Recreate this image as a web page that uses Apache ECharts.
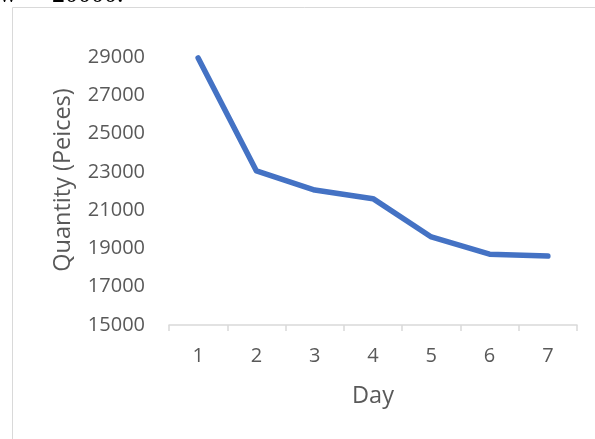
<!DOCTYPE html>
<html>
<head>
<meta charset="utf-8">
<script src="https://cdn.jsdelivr.net/npm/echarts@6/dist/echarts.min.js"></script>
<style>
  html, body { margin: 0; padding: 0; background: #ffffff; }
  #chart { width: 595px; height: 439px; }
</style>
</head>
<body>
<div id="chart"></div>
<script>
// Daily production quantity over one week
const days = ['1', '2', '3', '4', '5', '6', '7'];
const quantity = [28950, 23050, 22050, 21600, 19600, 18700, 18600];
const yTicks = { min: 15000, max: 29000, step: 2000 };

const FONT = 'Open Sans';
const TEXT = '#595959';
const RULE = '#d9d9d9';

const chart = echarts.init(document.getElementById('chart'), null, { renderer: 'canvas' });

chart.setOption({
  backgroundColor: '#ffffff',
  animation: false,
  graphic: [
    // tail of the running text line above the figure
    {
      type: 'text',
      x: -13,
      y: -18,
      silent: true,
      style: { text: 'aw', font: '26px "Liberation Serif"', fill: '#000000' }
    },
    {
      type: 'text',
      x: 52,
      y: -18,
      silent: true,
      style: { text: '20000.', font: '26px "Liberation Serif"', fill: '#000000' }
    },
    {
      type: 'rect',
      silent: true,
      shape: { x: 12.5, y: 7.5, width: 620, height: 460 },
      style: { fill: 'none', stroke: RULE, lineWidth: 1 }
    },
    {
      type: 'text',
      x: 63,
      y: 180,
      rotation: Math.PI / 2,
      silent: true,
      style: {
        text: 'Quantity (Peices)',
        font: '23.5px "' + FONT + '"',
        fill: TEXT,
        align: 'center',
        verticalAlign: 'middle'
      }
    }
  ],
  grid: { left: 169, right: 18, top: 57, bottom: 114 },
  xAxis: {
    type: 'category',
    data: days,
    boundaryGap: true,
    name: 'Day',
    nameLocation: 'middle',
    nameGap: 59,
    nameTextStyle: { fontFamily: FONT, fontSize: 23.5, color: TEXT },
    axisLine: { show: true, lineStyle: { color: RULE, width: 1.5 } },
    axisTick: { show: true, length: 6, inside: false, lineStyle: { color: RULE, width: 1.5 } },
    axisLabel: { fontFamily: FONT, fontSize: 20, color: TEXT, margin: 21 },
    splitLine: { show: false }
  },
  yAxis: {
    type: 'value',
    min: yTicks.min,
    max: yTicks.max,
    interval: yTicks.step,
    axisLine: { show: false },
    axisTick: { show: false },
    splitLine: { show: false },
    axisLabel: {
      fontFamily: FONT,
      fontSize: 20,
      color: TEXT,
      margin: 24,
      formatter: (v) => String(v)
    }
  },
  series: [
    {
      type: 'line',
      data: quantity,
      showSymbol: false,
      symbol: 'none',
      lineStyle: { color: '#4472C4', width: 5.5, cap: 'round', join: 'round' },
      itemStyle: { color: '#4472C4' }
    }
  ]
});
</script>
</body>
</html>
